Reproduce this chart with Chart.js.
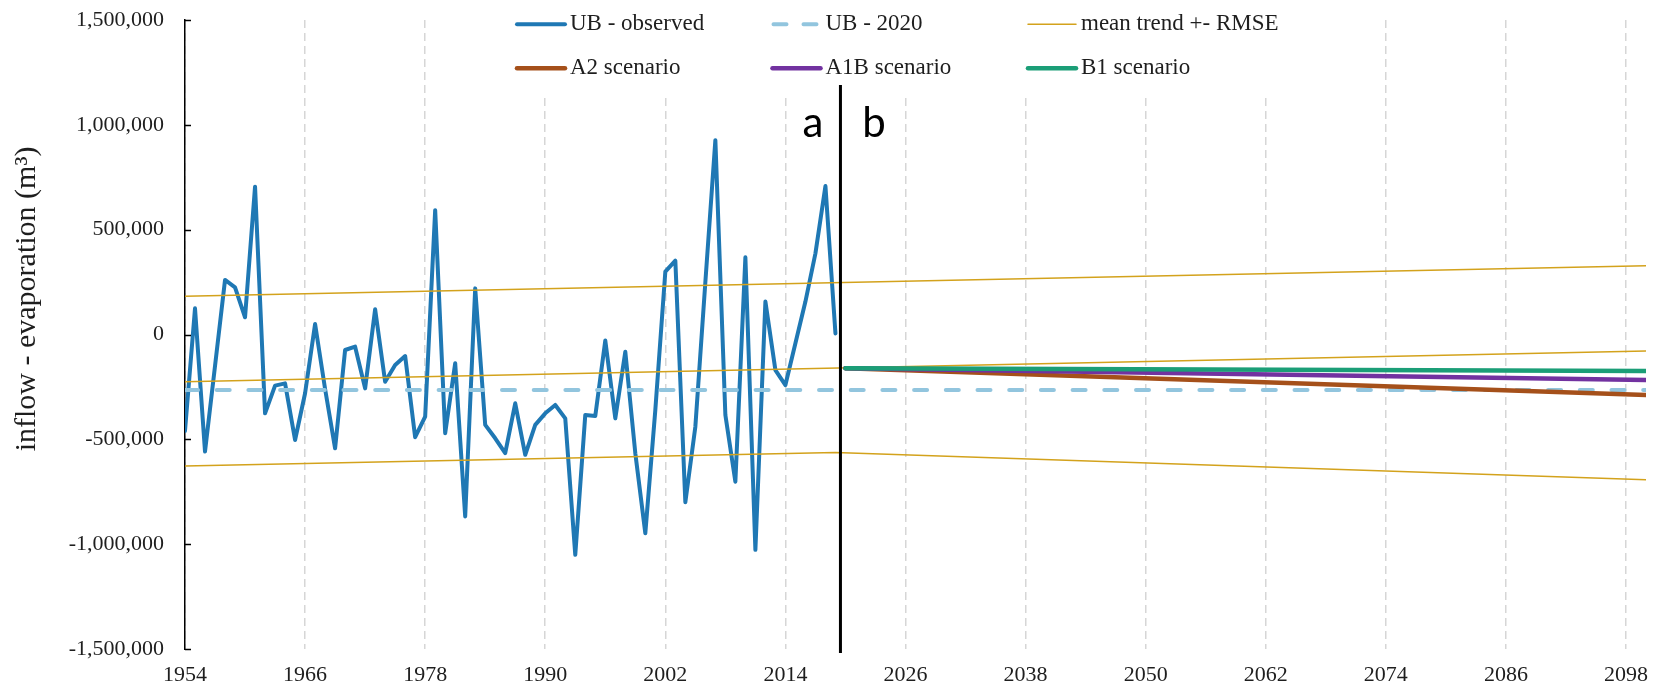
<!DOCTYPE html>
<html>
<head>
<meta charset="utf-8">
<title>Inflow minus evaporation</title>
<script src="https://cdn.jsdelivr.net/npm/chart.js@4.4.1/dist/chart.umd.min.js"></script>
<style>
  html, body { margin: 0; padding: 0; background: #ffffff; }
  #wrap { width: 1662px; height: 690px; }
  canvas { display: block; }
</style>
</head>
<body>
<div id="wrap"><canvas id="chart" width="1662" height="690"></canvas></div>
<script>
// ---- data (m³ per year) ----
const obsStartYear = 1954;
const observed = [
  -460000, 125000, -558000, -150000, 260000, 225000, 82000, 705000, -376000, -244000,
  -233000, -503000, -280000, 50000, -260000, -543000, -74000, -58000, -257000, 120000,
  -225000, -145000, -103000, -490000, -392000, 593000, -471000, -137000, -868000, 220000,
  -431000, -495000, -566000, -328000, -574000, -431000, -376000, -336000, -400000, -1051000,
  -384000, -389000, -29000, -400000, -82000, -566000, -948000, -360000, 300000, 352000,
  -800000, -440000, 250000, 927000, -384000, -702000, 368000, -1027000, 157000, -170000,
  -241000, -42000, 157000, 387000, 708000, 5000
];
const ub2020Years = [1954, 2100];
const ub2020 = [-265000, -265000];
const trendYears = [1954, 2100];
const trendMean = [-225000, -79000];
const trendUpper = [183000, 328000];
const trendLowerYears = [1954, 2019, 2100];
const trendLower = [-627000, -563000, -693000];
const scenarioYears = [2020, 2100];
const scenarioA2 = [-161000, -288000];
const scenarioA1B = [-161000, -217000];
const scenarioB1 = [-161000, -174000];

const xTickYears = [1954, 1966, 1978, 1990, 2002, 2014, 2026, 2038, 2050, 2062, 2074, 2086, 2098];
const yTickValues = [-1500000, -1000000, -500000, 0, 500000, 1000000, 1500000];
const dividerYear = 2019.5;
const periodLabels = ['a', 'b'];
const yAxisTitle = 'inflow - evaporation (m³)';

// ---- helpers ----
const serif = "'Liberation Serif', 'Times New Roman', serif";
const textColor = '#1e1e1e';
const pts = (xs, ys) => xs.map((x, i) => ({ x: x, y: ys[i] }));
const withCommas = v => {
  const s = Math.abs(v).toString().replace(/\B(?=(\d{3})+(?!\d))/g, ',');
  return (v < 0 ? '-' : '') + s;
};

const gold = '#d3a21c';
const trendLabel = 'mean trend +- RMSE';

const datasets = [
  { label: 'B1 scenario', data: pts(scenarioYears, scenarioB1), borderColor: '#1b9e77',
    borderWidth: 4.5, order: 1, legendSlot: [2, 1] },
  { label: 'A1B scenario', data: pts(scenarioYears, scenarioA1B), borderColor: '#7232a0',
    borderWidth: 4.5, order: 2, legendSlot: [1, 1] },
  { label: 'A2 scenario', data: pts(scenarioYears, scenarioA2), borderColor: '#a5501a',
    borderWidth: 4.5, order: 3, legendSlot: [0, 1] },
  { label: trendLabel, data: pts(trendYears, trendUpper), borderColor: gold,
    borderWidth: 1.5, order: 4, legendSlot: [2, 0] },
  { label: trendLabel, data: pts(trendYears, trendMean), borderColor: gold,
    borderWidth: 1.5, order: 5 },
  { label: trendLabel, data: pts(trendLowerYears, trendLower), borderColor: gold,
    borderWidth: 1.5, order: 6 },
  { label: 'UB - 2020', data: pts(ub2020Years, ub2020), borderColor: '#92c5de',
    borderWidth: 4, borderDash: [13, 18.7], order: 7, legendSlot: [1, 0] },
  { label: 'UB - observed', data: observed.map((v, i) => ({ x: obsStartYear + i, y: v })),
    borderColor: '#1f78b4', borderWidth: 4, order: 8, legendSlot: [0, 0] }
].map(d => Object.assign({
  pointRadius: 0, pointHoverRadius: 0, tension: 0, fill: false,
  borderCapStyle: 'round', borderJoinStyle: 'round'
}, d));

// legend grid, axis title, divider and period letters
const legendCols = [516, 771.5, 1027];
const legendRows = [24.3, 68.3];

const decor = {
  id: 'decor',
  beforeDatasetsDraw(chart) {
    const { ctx, chartArea } = chart;
    ctx.save();
    ctx.fillStyle = '#ffffff';
    ctx.fillRect(495, chartArea.top - 2, 805, 95 - chartArea.top);
    ctx.restore();
  },
  afterDatasetsDraw(chart) {
    const { ctx, chartArea, scales } = chart;
    const xs = scales.x, ys = scales.y;
    ctx.save();

    // inward tick marks on the value axis
    ctx.strokeStyle = '#000';
    ctx.lineWidth = 1.5;
    ys.ticks.forEach(t => {
      const py = Math.round(ys.getPixelForValue(t.value)) + 0.5;
      ctx.beginPath();
      ctx.moveTo(chartArea.left, py);
      ctx.lineTo(chartArea.left + 6, py);
      ctx.stroke();
    });

    // divider between observed period and projections
    const dx = xs.getPixelForValue(dividerYear);
    ctx.lineWidth = 3;
    ctx.beginPath();
    ctx.moveTo(dx, 85);
    ctx.lineTo(dx, chartArea.bottom + 4);
    ctx.stroke();

    ctx.fillStyle = '#000';
    ctx.font = "42px Lato, 'Liberation Sans', sans-serif";
    ctx.textAlign = 'center';
    ctx.textBaseline = 'alphabetic';
    ctx.fillText(periodLabels[0], dx - 27.5, 137);
    ctx.fillText(periodLabels[1], dx + 33.5, 137);

    // value axis title
    ctx.save();
    ctx.translate(27, 299);
    ctx.rotate(-Math.PI / 2);
    ctx.font = '30px ' + serif;
    ctx.fillStyle = textColor;
    ctx.textAlign = 'center';
    ctx.textBaseline = 'middle';
    ctx.fillText(yAxisTitle, 0, 0);
    ctx.restore();

    // legend
    chart.data.datasets.forEach(ds => {
      if (!ds.legendSlot) return;
      const lx = legendCols[ds.legendSlot[0]];
      const ly = legendRows[ds.legendSlot[1]];
      ctx.save();
      ctx.strokeStyle = ds.borderColor;
      ctx.lineWidth = ds.borderWidth;
      ctx.lineCap = 'round';
      ctx.beginPath();
      if (ds.borderDash) {
        ctx.moveTo(lx + 2, ly); ctx.lineTo(lx + 15, ly);
        ctx.moveTo(lx + 32, ly); ctx.lineTo(lx + 45, ly);
      } else {
        ctx.moveTo(lx + 1, ly); ctx.lineTo(lx + 49, ly);
      }
      ctx.stroke();
      ctx.restore();
      ctx.fillStyle = textColor;
      ctx.font = '23px ' + serif;
      ctx.textAlign = 'left';
      ctx.textBaseline = 'middle';
      ctx.fillText(ds.label, lx + 54, ly);
    });

    ctx.restore();
  }
};

Chart.defaults.font.family = serif;
Chart.defaults.color = textColor;

new Chart(document.getElementById('chart'), {
  type: 'line',
  data: { datasets: datasets },
  options: {
    responsive: false,
    animation: false,
    events: [],
    layout: { padding: { top: 20, right: 16, left: 0, bottom: 0 } },
    plugins: { legend: { display: false }, tooltip: { enabled: false } },
    scales: {
      x: {
        type: 'linear',
        min: 1954,
        max: 2100,
        afterBuildTicks: s => { s.ticks = xTickYears.map(v => ({ value: v })); },
        afterFit: s => { s.height = 41; },
        ticks: {
          autoSkip: false,
          maxRotation: 0,
          padding: 13,
          font: { size: 22 },
          color: textColor,
          callback: v => String(v)
        },
        grid: { display: true, color: '#d6d6d6', lineWidth: 1.5, drawTicks: false },
        border: { display: false, dash: [8, 5] }
      },
      y: {
        type: 'linear',
        min: -1500000,
        max: 1500000,
        afterBuildTicks: s => { s.ticks = yTickValues.map(v => ({ value: v })); },
        afterFit: s => { s.width = 185; s.paddingTop = 0; s.paddingBottom = 0; },
        ticks: {
          padding: 21,
          font: { size: 22 },
          color: textColor,
          callback: v => withCommas(v)
        },
        grid: { display: false, drawTicks: false },
        border: { display: true, color: '#000', width: 1.5 }
      }
    }
  },
  plugins: [decor]
});
</script>
</body>
</html>
